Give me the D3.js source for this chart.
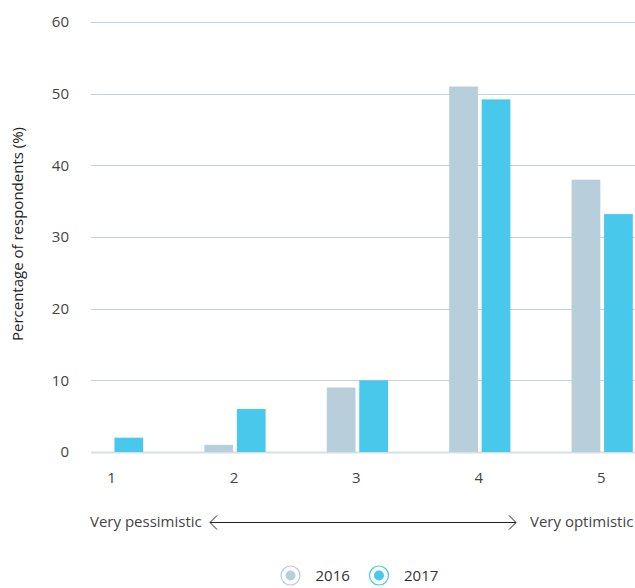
<!DOCTYPE html>
<html>
<head>
<meta charset="utf-8">
<script src="https://cdn.jsdelivr.net/npm/d3@7"></script>
<style>
  html, body { margin: 0; padding: 0; background: #fff; }
  svg { display: block; font-family: "Open Sans", "Segoe UI", sans-serif; }
</style>
</head>
<body>
<svg id="chart" width="635" height="588"></svg>
<script>
// Optimism scale, 1 = very pessimistic, 5 = very optimistic
const categories = ["1", "2", "3", "4", "5"];
const years = ["2016", "2017"];
const values2016 = [0, 1, 9, 51, 38];
const values2017 = [2, 6, 10, 49.2, 33.2];
const yTicks = [0, 10, 20, 30, 40, 50, 60];

const colors = { "2016": "#b8cedb", "2017": "#48c8ea" };
const FS = 15;

const svg = d3.select("#chart");

const y = d3.scaleLinear().domain([0, 60]).range([452, 22]);
const x = d3.scaleBand().domain(categories).range([51.4, 663.4])
  .paddingInner(0.5).paddingOuter(0.25);
const xs = d3.scaleBand().domain(years).range([0, x.bandwidth()]).paddingInner(0.115);

// Gridlines
svg.append("g")
  .selectAll("line")
  .data(yTicks)
  .join("line")
  .attr("x1", 91).attr("x2", 635)
  .attr("y1", d => Math.round(y(d)) + 0.5).attr("y2", d => Math.round(y(d)) + 0.5)
  .attr("stroke", d => d === 0 ? "#d3e0e8" : "#c4d4df")
  .attr("stroke-width", d => d === 0 ? 2 : 1);

// Y tick labels
svg.append("g")
  .selectAll("text")
  .data(yTicks)
  .join("text")
  .attr("x", 69).attr("y", d => y(d))
  .attr("dy", "0.35em")
  .attr("text-anchor", "end")
  .attr("font-size", FS)
  .attr("fill", "#444")
  .text(d => d);

// Y axis title
svg.append("text")
  .attr("transform", "translate(22.5,234) rotate(-90)")
  .attr("text-anchor", "middle")
  .attr("font-size", FS)
  .attr("fill", "#222")
  .text("Percentage of respondents (%)");

// Bars
const rows = categories.map((c, i) => ({ cat: c, "2016": values2016[i], "2017": values2017[i] }));
const groups = svg.append("g")
  .selectAll("g")
  .data(rows)
  .join("g")
  .attr("transform", d => `translate(${x(d.cat)},0)`);

groups.selectAll("rect")
  .data(d => years.map(yr => ({ yr, v: d[yr] })))
  .join("rect")
  .attr("x", d => xs(d.yr))
  .attr("width", xs.bandwidth())
  .attr("y", d => y(d.v))
  .attr("height", d => y(0) - y(d.v))
  .attr("fill", d => colors[d.yr]);

// X tick labels
svg.append("g")
  .selectAll("text")
  .data(categories)
  .join("text")
  .attr("x", d => x(d) + x.bandwidth() / 2 - 1)
  .attr("y", 483)
  .attr("text-anchor", "middle")
  .attr("font-size", FS)
  .attr("fill", "#444")
  .text(d => d);

// Scale direction annotation
const ann = svg.append("g");
ann.append("text").attr("x", 90).attr("y", 527).attr("font-size", FS).attr("fill", "#444")
  .text("Very pessimistic");
ann.append("text").attr("x", 530).attr("y", 527).attr("font-size", FS).attr("fill", "#444")
  .text("Very optimistic");
ann.append("line").attr("x1", 210).attr("x2", 516).attr("y1", 522.5).attr("y2", 522.5)
  .attr("stroke", "#222").attr("stroke-width", 1);
ann.append("path").attr("d", "M217,515.5 L210,522.5 L217,529.5")
  .attr("fill", "none").attr("stroke", "#222").attr("stroke-width", 1);
ann.append("path").attr("d", "M509,515.5 L516,522.5 L509,529.5")
  .attr("fill", "none").attr("stroke", "#222").attr("stroke-width", 1);

// Legend
const legendX = [290.5, 379];
const legend = svg.append("g")
  .selectAll("g")
  .data(years)
  .join("g")
  .attr("transform", (d, i) => `translate(${legendX[i]},575.5)`);
legend.append("circle").attr("r", 9.5).attr("fill", "#fff")
  .attr("stroke", d => colors[d]).attr("stroke-width", 1.2);
legend.append("circle").attr("r", 5).attr("fill", d => colors[d]);
legend.append("text").attr("x", 25).attr("dy", "0.35em")
  .attr("font-size", FS).attr("fill", "#333").text(d => d);
</script>
</body>
</html>
